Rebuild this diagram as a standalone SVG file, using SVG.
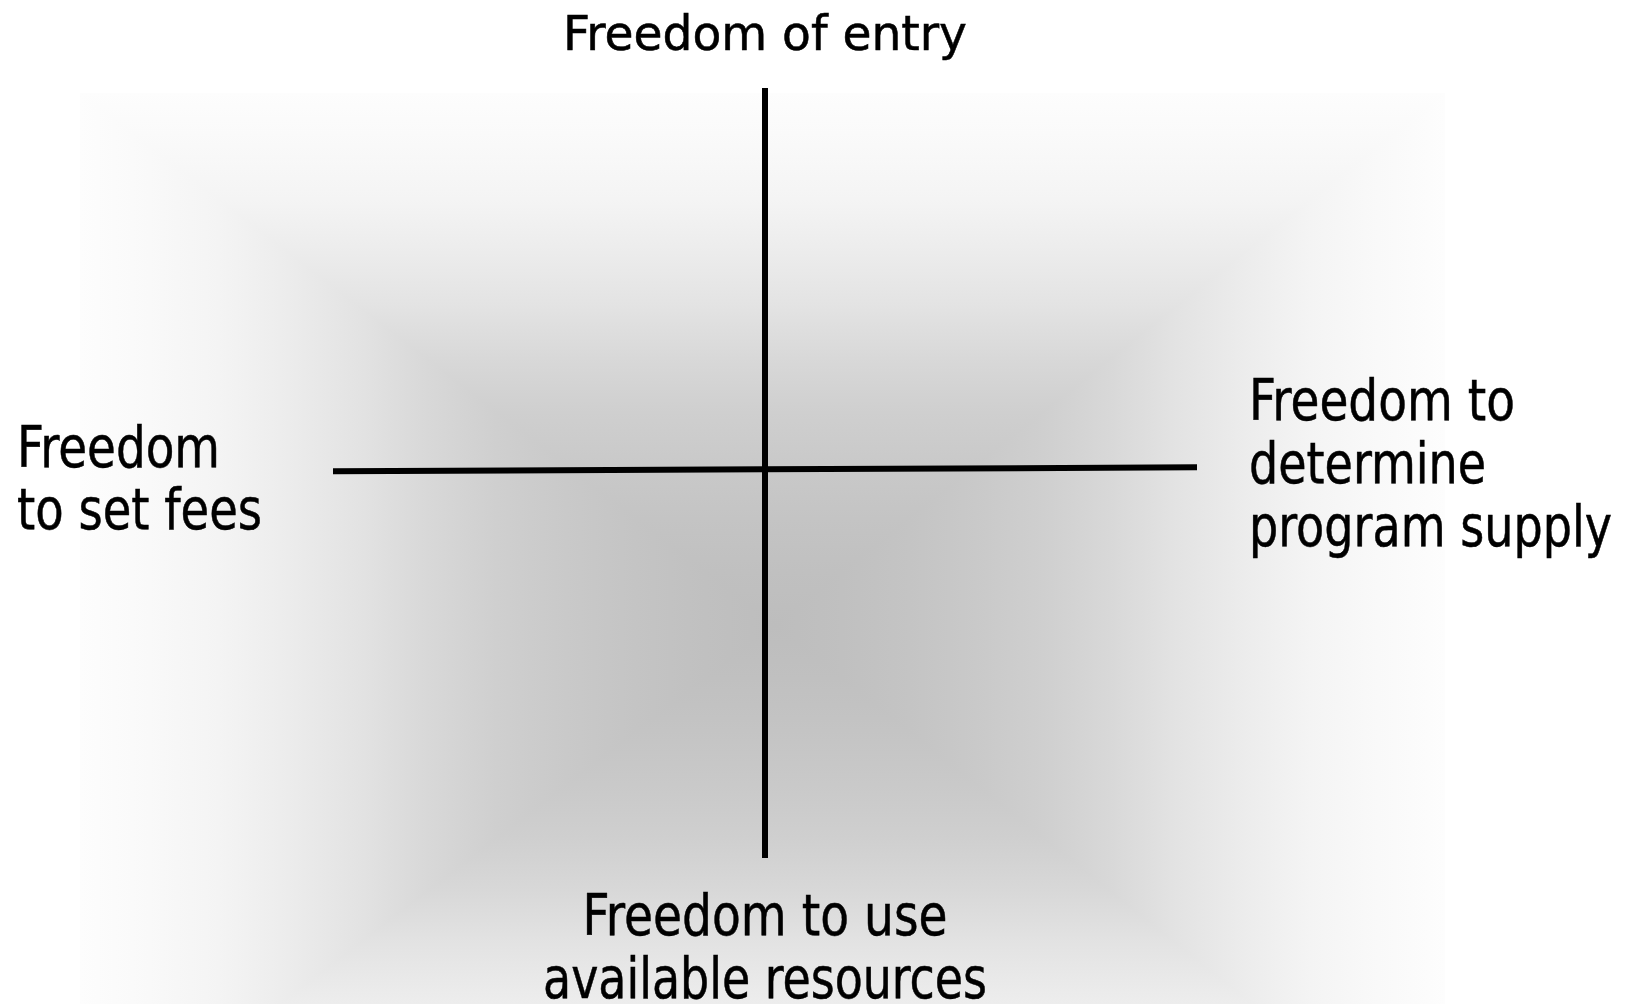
<svg xmlns="http://www.w3.org/2000/svg" width="1628" height="1004" viewBox="0 0 1628 1004">
<style>
.lbl{font-family:"DejaVu Sans Condensed","DejaVu Sans",sans-serif;fill:#000;stroke:#000;stroke-width:0.5;font-size:57px}
.top{font-size:48px}
.axis{stroke:#000;stroke-width:6;fill:none;stroke-linecap:butt}
</style>
<defs>
<linearGradient id="gp">
<stop offset="0" stop-color="#fdfdfd"/><stop offset="0.1" stop-color="#f9f9f9"/><stop offset="0.2" stop-color="#f4f4f4"/><stop offset="0.3" stop-color="#ececec"/><stop offset="0.4" stop-color="#e3e3e3"/><stop offset="0.5" stop-color="#d8d8d8"/><stop offset="0.6" stop-color="#cfcfcf"/><stop offset="0.7" stop-color="#c9c9c9"/><stop offset="0.8" stop-color="#c4c4c4"/><stop offset="0.9" stop-color="#c0c0c0"/><stop offset="1" stop-color="#bdbdbd"/>
</linearGradient>
<linearGradient id="gl" href="#gp" gradientUnits="userSpaceOnUse" x1="80" y1="0" x2="775" y2="0"/>
<linearGradient id="gr" href="#gp" gradientUnits="userSpaceOnUse" x1="1445" y1="0" x2="775" y2="0"/>
<linearGradient id="gt" href="#gp" gradientUnits="userSpaceOnUse" x1="0" y1="93" x2="0" y2="625"/>
<linearGradient id="gb" href="#gp" gradientUnits="userSpaceOnUse" x1="0" y1="1157" x2="0" y2="625"/>
</defs>
<rect width="1628" height="1004" fill="#fff"/>
<g id="background">
<rect x="80" y="93" width="1365" height="532" fill="url(#gt)"/>
<rect x="80" y="625" width="1365" height="532" fill="url(#gb)"/>
<path d="M80,93 L775,625 L80,1157 Z" fill="url(#gl)"/>
<path d="M1445,93 L775,625 L1445,1157 Z" fill="url(#gr)"/>
</g>
<g id="connectors">
<line class="axis" x1="765" y1="88" x2="765" y2="858"/>
<line class="axis" x1="333" y1="471.3" x2="1197" y2="467.3"/>
</g>
<g id="node-top"><text class="lbl top" x="765" y="50" text-anchor="middle" textLength="404" lengthAdjust="spacingAndGlyphs">Freedom of entry</text></g>
<g id="node-left">
<text class="lbl" x="17" y="467" textLength="203" lengthAdjust="spacingAndGlyphs">Freedom</text>
<text class="lbl" x="17" y="529" textLength="245" lengthAdjust="spacingAndGlyphs">to set fees</text>
</g>
<g id="node-right">
<text class="lbl" x="1249" y="420" textLength="266" lengthAdjust="spacingAndGlyphs">Freedom to</text>
<text class="lbl" x="1249" y="483" textLength="237" lengthAdjust="spacingAndGlyphs">determine</text>
<text class="lbl" x="1249" y="546" textLength="363" lengthAdjust="spacingAndGlyphs">program supply</text>
</g>
<g id="node-bottom">
<text class="lbl" x="765" y="935" text-anchor="middle" textLength="365" lengthAdjust="spacingAndGlyphs">Freedom to use</text>
<text class="lbl" x="765" y="998" text-anchor="middle" textLength="444" lengthAdjust="spacingAndGlyphs">available resources</text>
</g>
</svg>
